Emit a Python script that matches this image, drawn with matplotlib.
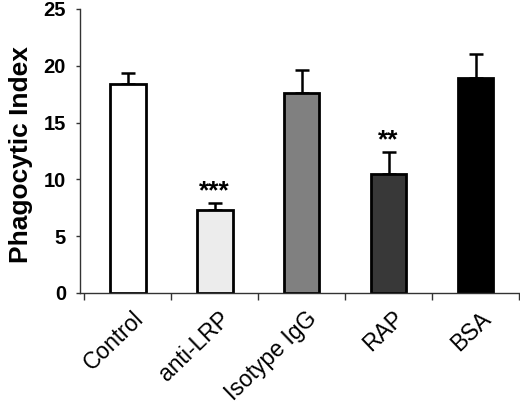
import numpy as np
import matplotlib.pyplot as plt
from matplotlib.ticker import FixedLocator
from matplotlib.transforms import ScaledTranslation

plt.rcParams['font.family'] = ['Liberation Sans', 'DejaVu Sans']

# --- data ---
groups = ['Control', 'anti-LRP', 'Isotype IgG', 'RAP', 'BSA']
means = [18.4, 7.3, 17.6, 10.5, 18.9]
errors = [0.95, 0.6, 2.0, 1.9, 2.1]
bar_colors = ['#ffffff', '#ececec', '#808080', '#383838', '#000000']
stars = ['', '***', '', '**', '']
star_y = [0, 8.35, 0, 12.8, 0]

fig = plt.figure(figsize=(5.2, 4.05), dpi=100)
ax = fig.add_axes([80 / 520, 1 - 293 / 405, 439 / 520, 284 / 405])

x = np.arange(len(groups))
ax.bar(x, means, width=0.41, color=bar_colors, edgecolor='black', linewidth=2, zorder=2)
ax.errorbar(x, means, yerr=[np.zeros(len(errors)), errors], fmt='none',
            ecolor='black', elinewidth=1.8, capsize=4.7, capthick=1.8, zorder=1)

for xi, s, sy in zip(x, stars, star_y):
    if s:
        ax.text(xi, sy, s, ha='center', va='baseline', fontsize=19, fontweight='bold')

ax.set_xlim(-0.55, 4.5)
ax.set_ylim(0, 25)
ax.set_yticks([0, 5, 10, 15, 20, 25])
ax.set_yticklabels(['0', '5', '10', '15', '20', '25'], fontsize=14.5, fontweight='bold')
ax.set_xticks(x)
ax.set_xticklabels(groups, rotation=44, ha='right', va='top', fontsize=16.5)
ax.tick_params(axis='x', length=0, pad=10)
shift = ScaledTranslation(20 / 100, 0, fig.dpi_scale_trans)
for lab in ax.get_xticklabels():
    lab.set_transform(lab.get_transform() + shift)
ax.xaxis.set_minor_locator(FixedLocator(np.arange(-0.5, 4.6, 1)))
ax.tick_params(axis='x', which='minor', length=5, width=1, direction='out', color='#333333')
ax.tick_params(axis='y', length=3, width=1, color='#333333', pad=7)
ax.set_ylabel('Phagocytic Index', fontsize=19, fontweight='bold')
ax.yaxis.set_label_coords(-0.107, 0.486)

for side in ['top', 'right']:
    ax.spines[side].set_visible(False)
for side in ['left', 'bottom']:
    ax.spines[side].set_linewidth(1)
    ax.spines[side].set_color('#333333')

fig.savefig('out.png', dpi=100)
